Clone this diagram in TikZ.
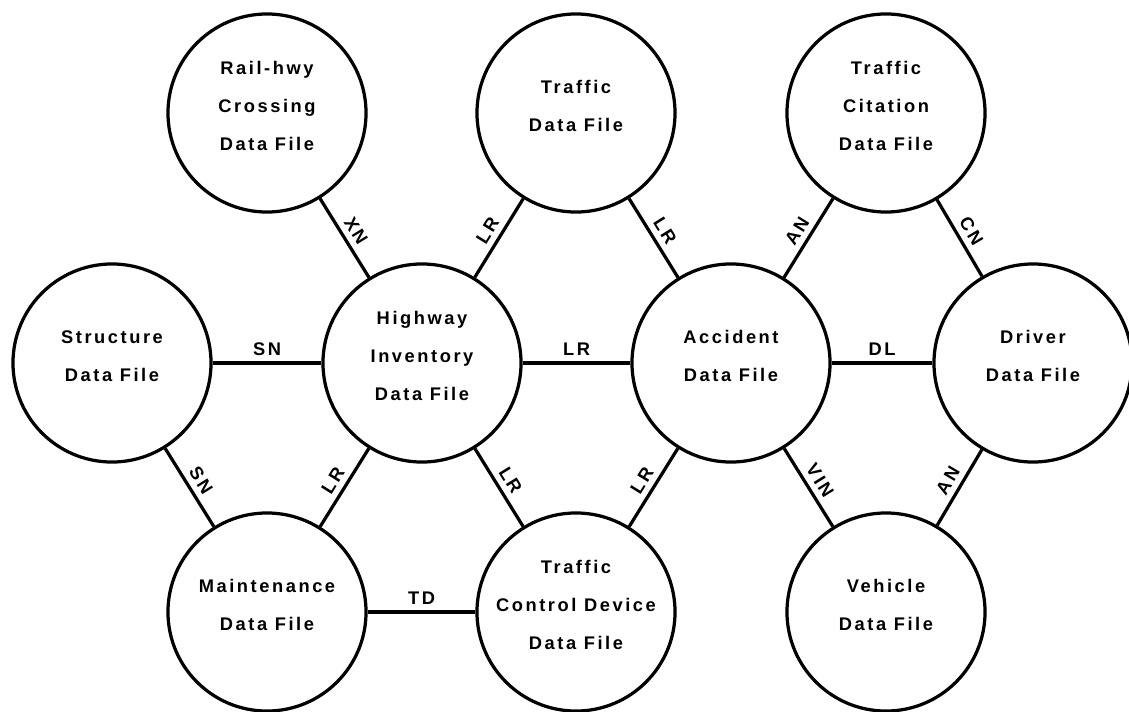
\documentclass[tikz,border=0pt]{standalone}
\usepackage{fontspec}
\newfontfamily\filefont[LetterSpace=14]{Liberation Sans Bold}

\begin{document}
\begin{tikzpicture}[x=0.025cm, y=-0.025cm,
    datafile/.style={circle, draw, line width=2.3pt, minimum size=4.95cm, inner sep=0pt, align=center,
        text depth=0.35cm, font=\filefont\fontsize{13}{27}\selectfont},
    link/.style={line width=2.3pt},
    key/.style={font=\filefont\fontsize{13}{14}\selectfont, inner sep=4pt}]
    \useasboundingbox (0,0) rectangle (1129,711);
    % top row
    \node[datafile] (rail) at (267,113) {Rail-hwy\\Crossing\\Data File};
    \node[datafile] (traffic) at (576,113) {Traffic\\Data File};
    \node[datafile] (citation) at (886,113) {Traffic\\Citation\\Data File};
    % middle row
    \node[datafile] (structure) at (112,363) {Structure\\Data File};
    \node[datafile] (highway) at (422,363) {Highway\\Inventory\\Data File};
    \node[datafile] (accident) at (731,363) {Accident\\Data File};
    \node[datafile] (driver) at (1033,363) {Driver\\Data File};
    % bottom row
    \node[datafile] (maint) at (267,612) {Maintenance\\Data File};
    \node[datafile] (device) at (576,612) {Traffic\\Control Device\\Data File};
    \node[datafile] (vehicle) at (886,612) {Vehicle\\Data File};
    % links
    \draw[link] (rail) -- node[key, sloped, above] {XN} (highway);
    \draw[link] (highway) -- node[key, sloped, above] {LR} (traffic);
    \draw[link] (traffic) -- node[key, sloped, above] {LR} (accident);
    \draw[link] (accident) -- node[key, sloped, above] {AN} (citation);
    \draw[link] (citation) -- node[key, sloped, above] {CN} (driver);
    \draw[link] (structure) -- node[key, above] {SN} (highway);
    \draw[link] (highway) -- node[key, above] {LR} (accident);
    \draw[link] (accident) -- node[key, above] {DL} (driver);
    \draw[link] (structure) -- node[key, sloped, above] {SN} (maint);
    \draw[link] (maint) -- node[key, sloped, above] {LR} (highway);
    \draw[link] (highway) -- node[key, sloped, above] {LR} (device);
    \draw[link] (device) -- node[key, sloped, above] {LR} (accident);
    \draw[link] (accident) -- node[key, sloped, above] {VIN} (vehicle);
    \draw[link] (vehicle) -- node[key, sloped, above] {AN} (driver);
    \draw[link] (maint) -- node[key, above] {TD} (device);
\end{tikzpicture}
\end{document}
